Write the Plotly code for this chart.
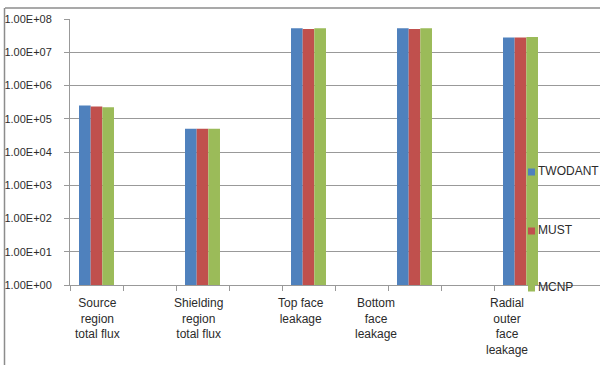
import plotly.graph_objects as go

# ---- data ----
categories = ["Source<br>region<br>total flux", "Shielding<br>region<br>total flux",
              "Top face<br>leakage", "Bottom<br>face<br>leakage", "Radial<br>outer<br>face<br>leakage"]
series_names = ["TWODANT", "MUST", "MCNP"]
twodant = [2.5e5, 5.0e4, 5.3e7, 5.3e7, 2.8e7]
must = [2.35e5, 5.0e4, 5.0e7, 5.0e7, 2.8e7]
mcnp = [2.2e5, 5.0e4, 5.3e7, 5.3e7, 2.9e7]
ytick_vals = [1e0, 1e1, 1e2, 1e3, 1e4, 1e5, 1e6, 1e7, 1e8]
ytick_text = ["1.00E+00", "1.00E+01", "1.00E+02", "1.00E+03", "1.00E+04",
              "1.00E+05", "1.00E+06", "1.00E+07", "1.00E+08"]

# ---- layout constants ----
W, H = 600, 365
L, R, T, B = 70, 600, 19, 285          # plot area in pixels
slot_x = [0, 2, 4, 6, 8]               # category slots (every other slot is blank)
label_x = [0.01, 1.915, 3.86, 5.27, 7.745]
colors = ["#4F81BD", "#C0504D", "#9BBB59"]
offsets = [-0.33, -0.11, 0.11]
bw = 0.22
grid = "#999999"
txt = "#2B2B2B"
FONT = "Liberation Sans"

def px(x):
    return (x - L) / (R - L)

def py(y):
    return (B - y) / (B - T)

fig = go.Figure()
for name, vals, c, off in zip(series_names, [twodant, must, mcnp], colors, offsets):
    fig.add_trace(go.Bar(x=slot_x, y=vals, name=name, marker=dict(color=c, line=dict(width=0)),
                         width=bw, offset=off, showlegend=False))

shapes = []
annotations = []
# chart area border (top and left)
shapes.append(dict(type="line", xref="paper", yref="paper", x0=px(5), x1=px(600), y0=py(8), y1=py(8),
                   line=dict(color="#8C8C8C", width=1.5)))
shapes.append(dict(type="line", xref="paper", yref="paper", x0=px(4.5), x1=px(4.5), y0=py(8), y1=py(366),
                   line=dict(color="#8C8C8C", width=1.5)))

# category labels
for lx, lab in zip(label_x, categories):
    annotations.append(dict(x=lx, y=py(294), xref="x", yref="paper", text=lab, showarrow=False,
                            xanchor="center", yanchor="top", align="center",
                            font=dict(family=FONT, size=12, color=txt)))

# legend (manual)
leg_y = [172, 231, 288]
for name, c, ly in zip(series_names, colors, leg_y):
    shapes.append(dict(type="rect", xref="paper", yref="paper", x0=px(528), x1=px(535),
                       y0=py(ly - 3.5), y1=py(ly + 3.5), fillcolor=c, line=dict(width=0)))
    annotations.append(dict(x=px(536), y=py(ly - 1), xref="paper", yref="paper", text=name,
                            showarrow=False, xanchor="left", yanchor="middle",
                            font=dict(family=FONT, size=12, color=txt)))

fig.update_layout(
    width=W, height=H,
    margin=dict(l=L, r=W - R, t=T, b=H - B, pad=0),
    paper_bgcolor="white", plot_bgcolor="white",
    barmode="overlay",
    shapes=shapes, annotations=annotations,
    showlegend=False,
    font=dict(family=FONT, size=12, color=txt),
)
fig.update_xaxes(range=[-0.5, 9.5], showgrid=False, zeroline=False, showline=True,
                 linecolor=grid, linewidth=1, showticklabels=False, ticks="",
                 minor=dict(tick0=-0.5, dtick=1, ticks="outside", ticklen=5, tickcolor=grid, showgrid=False))
fig.update_yaxes(type="log", range=[0, 8], tickvals=ytick_vals, ticktext=ytick_text,
                 showgrid=True, gridcolor=grid, gridwidth=1, showline=True, linecolor=grid,
                 linewidth=1, ticks="outside", ticklen=5, tickcolor=grid, zeroline=False,
                 ticklabelstandoff=10, tickfont=dict(family=FONT, size=11, color=txt))

fig.write_html("out.html")
